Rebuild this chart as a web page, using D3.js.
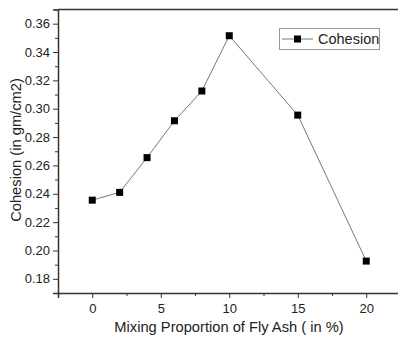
<!DOCTYPE html>
<html><head><meta charset="utf-8">
<script src="https://cdn.jsdelivr.net/npm/d3@7"></script>
<style>body{margin:0;background:#fff}svg{display:block}text{font-family:"Liberation Sans",Arial,sans-serif;fill:#222}</style>
</head><body>
<script>
const proportion = [0, 2, 4, 6, 8, 10, 15, 20];
const cohesion = [0.2355, 0.241, 0.2655, 0.2915, 0.3125, 0.3515, 0.2955, 0.1925];
const xTicks = [0, 5, 10, 15, 20];
const xMinorTicks = [-2.5, 2.5, 7.5, 12.5, 17.5];
const yTicks = [0.18, 0.20, 0.22, 0.24, 0.26, 0.28, 0.30, 0.32, 0.34, 0.36];
const yMinorTicks = [0.17, 0.19, 0.21, 0.23, 0.25, 0.27, 0.29, 0.31, 0.33, 0.35, 0.37];
const seriesName = "Cohesion";
const xTitle = "Mixing Proportion of Fly Ash ( in %)";
const yTitle = "Cohesion (in gm/cm2)";

const W = 398, H = 341;
const svg = d3.select("body").append("svg").attr("width", W).attr("height", H);
const x = d3.scaleLinear().domain([-2.5, 22.5]).range([58, 400.5]);
const y = d3.scaleLinear().domain([0.17, 0.37]).range([293, 9.5]);
const axisColor = "#333";

// top frame line
svg.append("line").attr("x1", x(-2.5)).attr("x2", x(22.5)).attr("y1", y(0.37)).attr("y2", y(0.37))
  .attr("stroke", axisColor).attr("stroke-width", 1.5);

// y minor ticks
const ym = svg.append("g").attr("transform", `translate(${x(-2.5)},0)`)
  .call(d3.axisLeft(y).tickValues(yMinorTicks).tickSize(3).tickFormat(""));
ym.select(".domain").remove();
ym.selectAll("line").attr("stroke", axisColor).attr("stroke-width", 1);

const yAx = svg.append("g").attr("transform", `translate(${x(-2.5)},0)`)
  .call(d3.axisLeft(y).tickValues(yTicks).tickSize(5).tickPadding(3).tickFormat(d3.format(".2f")));
yAx.select(".domain").attr("stroke", axisColor).attr("stroke-width", 1.5);
yAx.selectAll(".tick line").attr("stroke", axisColor).attr("stroke-width", 1);
yAx.selectAll("text").style("font-size", "13px").attr("fill", "#333");

// x minor ticks
const xm = svg.append("g").attr("transform", `translate(0,${y(0.17)})`)
  .call(d3.axisBottom(x).tickValues(xMinorTicks).tickSize(3).tickFormat(""));
xm.select(".domain").remove();
xm.selectAll("line").attr("stroke", axisColor).attr("stroke-width", 1);

const xAx = svg.append("g").attr("transform", `translate(0,${y(0.17)})`)
  .call(d3.axisBottom(x).tickValues(xTicks).tickSize(5).tickPadding(6).tickFormat(d3.format("d")));
xAx.select(".domain").attr("stroke", axisColor).attr("stroke-width", 1.5);
xAx.selectAll(".tick line").attr("stroke", axisColor).attr("stroke-width", 1);
xAx.selectAll("text").style("font-size", "13px").attr("fill", "#333");

// titles
svg.append("text").attr("x", 229).attr("y", 332).attr("text-anchor", "middle")
  .style("font-size", "14.7px").text(xTitle);
svg.append("text").attr("transform", "translate(21,150) rotate(-90)").attr("text-anchor", "middle")
  .style("font-size", "14.7px").text(yTitle);

// line
const data = proportion.map((p, i) => ({p, c: cohesion[i]}));
svg.append("path").datum(data)
  .attr("d", d3.line().x(d => x(d.p)).y(d => y(d.c)))
  .attr("fill", "none").attr("stroke", "#777").attr("stroke-width", 1);
const ms = 7;
svg.selectAll("rect.pt").data(data).join("rect").attr("class", "pt")
  .attr("x", d => x(d.p) - ms/2).attr("y", d => y(d.c) - ms/2)
  .attr("width", ms).attr("height", ms).attr("fill", "#000");

// legend
const lg = svg.append("g");
lg.append("rect").attr("x", 279.5).attr("y", 28.5).attr("width", 100).attr("height", 21)
  .attr("fill", "#fff").attr("stroke", "#999").attr("stroke-width", 1);
lg.append("line").attr("x1", 282).attr("x2", 313).attr("y1", 39).attr("y2", 39)
  .attr("stroke", "#777").attr("stroke-width", 1);
lg.append("rect").attr("x", 297.5 - ms/2).attr("y", 39 - ms/2).attr("width", ms).attr("height", ms).attr("fill", "#000");
lg.append("text").attr("x", 318).attr("y", 44).style("font-size", "14.5px").text(seriesName);
</script>
</body></html>
